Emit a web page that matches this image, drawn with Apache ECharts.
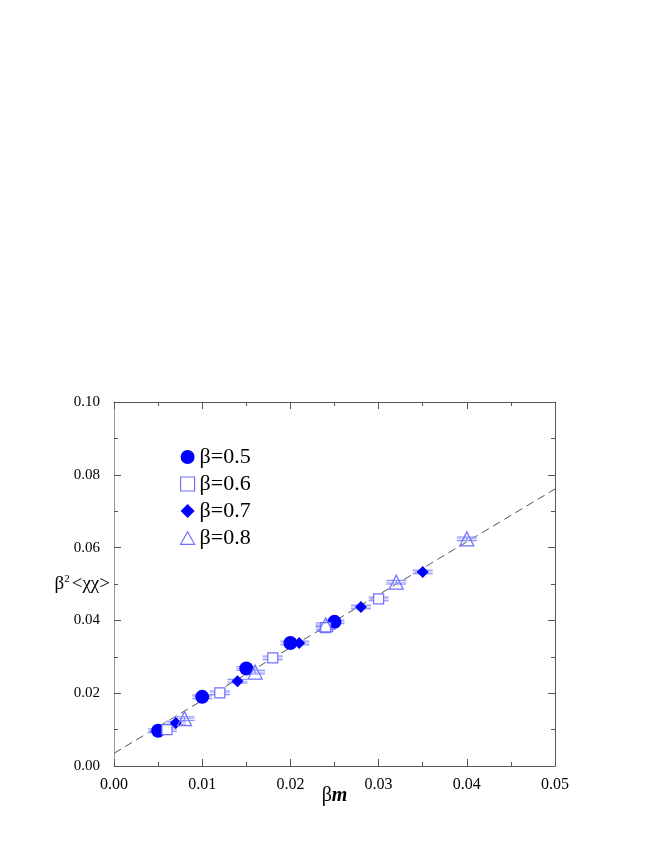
<!DOCTYPE html>
<html>
<head>
<meta charset="utf-8">
<script src="https://cdn.jsdelivr.net/npm/echarts@6/dist/echarts.min.js"></script>
<style>html,body{margin:0;padding:0;background:#fff;}#c{width:670px;height:867px;}</style>
</head>
<body>
<div id="c"></div>
<script>
// data
const b05x = [0.005, 0.010, 0.015, 0.020, 0.025];
const b05y = [0.0097, 0.0190, 0.0268, 0.0338, 0.0396];
const b06x = [0.006, 0.012, 0.018, 0.024, 0.030];
const b06y = [0.0100, 0.0201, 0.0297, 0.0380, 0.0459];
const b07x = [0.007, 0.014, 0.021, 0.028, 0.035];
const b07y = [0.0118, 0.0233, 0.0338, 0.0437, 0.0533];
const b08x = [0.008, 0.016, 0.024, 0.032, 0.040];
const b08y = [0.0130, 0.0258, 0.0388, 0.0505, 0.0624];
const errY = 0.0005;
const fitX = [0.0, 0.05];
const fitY = [0.0035, 0.0761];
const xTicks = ['0.00','0.01','0.02','0.03','0.04','0.05'];
const yTicks = ['0.00','0.02','0.04','0.06','0.08','0.10'];
const legendNames = ['β=0.5','β=0.6','β=0.7','β=0.8'];

const pts = (xs, ys) => xs.map((x, i) => [x, ys[i]]);
const errSeries = (xs, ys) => ({
  type: 'custom',
  silent: true,
  z: 1,
  data: xs.map((x, i) => [x, ys[i] - errY, ys[i] + errY]),
  renderItem: function (params, api) {
    const lo = api.coord([api.value(0), api.value(1)]);
    const hi = api.coord([api.value(0), api.value(2)]);
    const mid = api.coord([api.value(0), (api.value(1) + api.value(2)) / 2]);
    const w = 10;
    const st = { stroke: '#8f8fff', lineWidth: 1.2 };
    return {
      type: 'group',
      children: [
        { type: 'line', shape: { x1: lo[0] - w, y1: lo[1], x2: lo[0] + w, y2: lo[1] }, style: st },
        { type: 'line', shape: { x1: hi[0] - w, y1: hi[1], x2: hi[0] + w, y2: hi[1] }, style: st },
        { type: 'line', shape: { x1: mid[0] - w, y1: mid[1], x2: mid[0] + w, y2: mid[1] }, style: { stroke: '#b0b0ff', lineWidth: 1 } },
        { type: 'line', shape: { x1: lo[0], y1: lo[1], x2: hi[0], y2: hi[1] }, style: st }
      ]
    };
  }
});

const serif = 'Liberation Serif, Times New Roman, serif';
const chart = echarts.init(document.getElementById('c'), null, { renderer: 'canvas' });

const axisCommon = {
  axisLine: { show: true, onZero: false, lineStyle: { color: '#555', width: 1 } },
  splitLine: { show: false },
};
const tickCommon = {
  axisTick: { show: true, inside: true, length: 7, lineStyle: { color: '#555' } },
  minorTick: { show: true, splitNumber: 2, length: 4, lineStyle: { color: '#555' } }
};

chart.setOption({
  animation: false,
  backgroundColor: '#fff',
  grid: { left: 114, right: 115, top: 402, bottom: 101, containLabel: false },
  legend: {
    show: true,
    orient: 'vertical',
    left: 175,
    top: 441,
    itemWidth: 14,
    itemHeight: 14,
    itemGap: 5,
    textStyle: { fontFamily: serif, fontSize: 22, color: '#000', padding: [0, 0, 0, 0] },
    data: [
      { name: legendNames[0], icon: 'circle', itemStyle: { color: '#0000ff' } },
      { name: legendNames[1], icon: 'path://M1,1L9,1L9,9L1,9Z', itemStyle: { color: '#fff', borderColor: '#7070ff', borderWidth: 1.2 } },
      { name: legendNames[2], icon: 'diamond', itemStyle: { color: '#0000ff' } },
      { name: legendNames[3], icon: 'path://M5,0L10,9L0,9Z', itemStyle: { color: '#fff', borderColor: '#7070ff', borderWidth: 1.2 } }
    ]
  },
  xAxis: [{
    type: 'value', min: 0, max: 0.05, interval: 0.01, position: 'bottom',
    ...axisCommon, ...tickCommon,
    axisLabel: { fontFamily: serif, fontSize: 16, color: '#000', margin: 11,
      formatter: (v, i) => xTicks[i] },
    name: '{b|β}{m|m}', nameLocation: 'middle', nameGap: 20, nameMoveOverlap: false,
    nameTextStyle: { rich: { b: { fontFamily: serif, fontSize: 20, color: '#000' }, m: { fontFamily: serif, fontSize: 20, fontWeight: 'bold', fontStyle: 'italic', color: '#000' } } }
  }, {
    type: 'value', min: 0, max: 0.05, interval: 0.01, position: 'top',
    ...axisCommon, ...tickCommon,
    axisLabel: { show: false }
  }],
  yAxis: [{
    type: 'value', min: 0, max: 0.1, interval: 0.02, position: 'left',
    ...axisCommon, ...tickCommon,
    axisLine: { show: true, onZero: false, lineStyle: { color: '#999', width: 1 } },
    axisLabel: { fontFamily: serif, fontSize: 15, color: '#000', margin: 14,
      formatter: (v, i) => yTicks[i] },
    name: '{b|β}{s|2}{t|<χχ>}', nameLocation: 'middle', nameGap: 4, nameRotate: 0, nameMoveOverlap: false,
    nameTextStyle: { rich: {
      b: { fontFamily: serif, fontSize: 19, color: '#000' },
      s: { fontFamily: serif, fontSize: 11, color: '#000', verticalAlign: 'top', padding: [0, 2, 10, 0] },
      t: { fontFamily: serif, fontSize: 19, color: '#000' } } }
  }, {
    type: 'value', min: 0, max: 0.1, interval: 0.02, position: 'right',
    ...axisCommon, ...tickCommon,
    axisLabel: { show: false }
  }],
  series: [
    {
      type: 'line', data: pts(fitX, fitY), symbol: 'none', silent: true, z: 0,
      lineStyle: { color: '#555', width: 1, type: [8, 5] }
    },
    errSeries(b05x, b05y), errSeries(b06x, b06y), errSeries(b07x, b07y), errSeries(b08x, b08y),
    {
      name: legendNames[0], type: 'scatter', data: pts(b05x, b05y), symbol: 'circle', symbolSize: 14, z: 5,
      itemStyle: { color: '#0000ff', opacity: 1 }
    },
    {
      name: legendNames[1], type: 'scatter', data: pts(b06x, b06y), symbol: 'rect', symbolSize: 10, z: 5,
      itemStyle: { color: '#fff', borderColor: '#7070ff', borderWidth: 1.2, opacity: 1 }
    },
    {
      name: legendNames[2], type: 'scatter', data: pts(b07x, b07y), symbol: 'diamond', symbolSize: 12, z: 5,
      itemStyle: { color: '#0000ff', opacity: 1 }
    },
    {
      name: legendNames[3], type: 'scatter', data: pts(b08x, b08y), symbol: 'triangle', symbolSize: 14, z: 5,
      itemStyle: { color: 'rgba(255,255,255,0)', borderColor: '#7070ff', borderWidth: 1.2, opacity: 1 }
    }
  ]
});
</script>
</body>
</html>
